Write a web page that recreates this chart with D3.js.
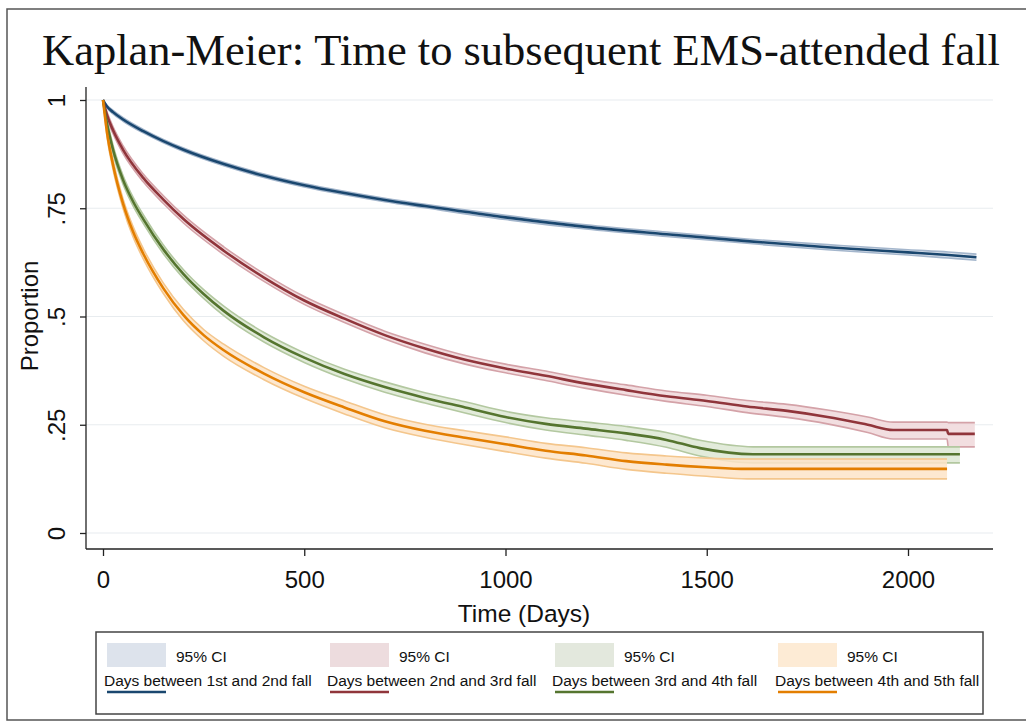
<!DOCTYPE html>
<html>
<head>
<meta charset="utf-8">
<script src="https://cdn.jsdelivr.net/npm/d3@7"></script>
<style>
  body { margin: 0; background: #fff; }
  svg text { font-family: "Liberation Sans", Arial, sans-serif; fill: #111; }
</style>
</head>
<body>
<div id="chart"></div>
<script>
// Kaplan-Meier estimates (days, survival, 95% CI)
let days12 = [0, 10, 25, 50, 100, 150, 200, 300, 400, 500, 600, 700, 800, 1000, 1200, 1400, 1600, 1800, 2000, 2100, 2170];
let surv12 = [1, .985, .972, .955, .928, .905, .885, .852, .825, .803, .785, .769, .755, .729, .707, .69, .674, .66, .648, .642, .637];
let lo12   = [1, .982, .968, .951, .924, .901, .881, .848, .821, .799, .781, .765, .751, .724, .702, .685, .669, .654, .642, .635, .630];
let hi12   = [1, .988, .976, .959, .932, .909, .889, .856, .829, .807, .789, .773, .759, .734, .712, .695, .679, .666, .654, .649, .644];

let days23 = [0, 10, 25, 50, 100, 150, 200, 300, 400, 500, 600, 700, 800, 900, 1000, 1100, 1200, 1300, 1400, 1500, 1600, 1700, 1800, 1900, 1963, 2097, 2100, 2166];
let surv23 = [1, .965, .93, .885, .82, .77, .725, .652, .59, .537, .495, .457, .426, .40, .38, .363, .345, .33, .316, .305, .292, .282, .268, .25, .238, .238, .229, .229];
let lo23   = [1, .958, .922, .876, .811, .761, .716, .643, .581, .528, .486, .448, .416, .39, .37, .352, .334, .318, .304, .292, .278, .267, .252, .232, .217, .217, .199, .199];
let hi23   = [1, .972, .938, .894, .829, .779, .734, .661, .599, .546, .504, .466, .436, .41, .39, .374, .356, .342, .328, .318, .306, .297, .284, .268, .256, .256, .255, .255];

let days34 = [0, 10, 25, 50, 75, 100, 150, 200, 250, 300, 400, 500, 600, 700, 800, 900, 1000, 1100, 1200, 1300, 1400, 1483, 1615, 2129];
let surv34 = [1, .945, .885, .815, .765, .725, .655, .598, .552, .513, .452, .405, .367, .337, .312, .29, .268, .252, .241, .23, .215, .196, .182, .182];
let lo34   = [1, .936, .875, .805, .755, .715, .645, .588, .542, .502, .441, .394, .356, .325, .3, .277, .255, .238, .226, .214, .198, .178, .162, .162];
let hi34   = [1, .954, .895, .825, .775, .735, .665, .608, .562, .524, .463, .416, .378, .349, .324, .303, .281, .266, .256, .246, .232, .214, .199, .199];

let days45 = [0, 10, 25, 50, 75, 100, 150, 200, 250, 300, 400, 500, 600, 700, 800, 900, 1000, 1100, 1200, 1300, 1400, 1500, 1600, 2097];
let surv45 = [1, .925, .85, .76, .695, .645, .565, .503, .457, .422, .368, .325, .29, .258, .236, .22, .205, .19, .179, .166, .158, .152, .148, .148];
let lo45   = [1, .915, .839, .749, .683, .633, .553, .49, .444, .408, .354, .311, .275, .243, .221, .204, .188, .173, .161, .147, .138, .131, .125, .125];
let hi45   = [1, .935, .861, .771, .707, .657, .577, .516, .47, .436, .382, .339, .305, .273, .251, .236, .222, .207, .197, .185, .178, .173, .171, .171];

let seriesNames = ["Days between 1st and 2nd fall", "Days between 2nd and 3rd fall",
                   "Days between 3rd and 4th fall", "Days between 4th and 5th fall"];
let xTicks = [0, 500, 1000, 1500, 2000];
let yTicks = [0, .25, .5, .75, 1];
let yTickLabels = ["0", ".25", ".5", ".75", "1"];

let lineColors = ["#1a476f", "#90353b", "#55752f", "#e37e00"];
let ciFills    = ["#d6deea", "#f0d8db", "#dde8d3", "#fde4c8"];
let ciEdges    = ["#a4b6cc", "#d4a2a8", "#b3c8a0", "#f4c68c"];
let swatchFills = ["#dde3ec", "#eddcde", "#e3e8dd", "#fdebd5"];

let series = [
  {days: days12, surv: surv12, lo: lo12, hi: hi12},
  {days: days23, surv: surv23, lo: lo23, hi: hi23},
  {days: days34, surv: surv34, lo: lo34, hi: hi34},
  {days: days45, surv: surv45, lo: lo45, hi: hi45},
].map((s, i) => ({
  name: seriesNames[i],
  points: s.days.map((d, j) => ({t: d, v: s.surv[j], lo: s.lo[j], hi: s.hi[j]}))
}));

let W = 1026, H = 728;
let svg = d3.select("#chart").append("svg")
  .attr("width", W).attr("height", H);

// outer frame
svg.append("rect")
  .attr("x", 7).attr("y", 9).attr("width", 1040).attr("height", 711)
  .attr("fill", "none").attr("stroke", "#555").attr("stroke-width", 1.5);

svg.append("text")
  .attr("x", 521).attr("y", 65)
  .attr("text-anchor", "middle")
  .style("font-family", "'Liberation Serif', 'Times New Roman', serif")
  .style("font-size", "44.5px")
  .text("Kaplan-Meier: Time to subsequent EMS-attended fall");

let xScale = d3.scaleLinear().domain([0, 2000]).range([103, 908]);
let yScale = d3.scaleLinear().domain([0, 1]).range([533, 100]);
let plotLeft = 86, plotRight = 993, plotBottom = 549, plotTop = 87;

// gridlines
svg.append("g").selectAll("line")
  .data(yTicks)
  .join("line")
  .attr("x1", plotLeft).attr("x2", plotRight)
  .attr("y1", d => yScale(d)).attr("y2", d => yScale(d))
  .attr("stroke", "#e8ecef").attr("stroke-width", 1.2);

// axes
let yAxis = d3.axisLeft(yScale).tickValues(yTicks)
  .tickFormat((d, i) => yTickLabels[i]).tickSize(6);
let yG = svg.append("g").attr("transform", `translate(${plotLeft},0)`).call(yAxis);
yG.select(".domain").attr("d", `M0,${plotTop}V${plotBottom}`).attr("stroke", "#222").attr("stroke-width", 1.3);
yG.selectAll(".tick line").attr("stroke", "#222").attr("stroke-width", 1.3);
yG.selectAll(".tick text")
  .attr("x", null)
  .attr("text-anchor", "middle")
  .attr("transform", "translate(-21,0) rotate(-90)")
  .attr("y", 0).attr("dy", 0)
  .style("font-size", "24px").attr("fill", "#111");

let xAxis = d3.axisBottom(xScale).tickValues(xTicks).tickFormat(d3.format("d")).tickSize(7).tickPadding(15);
let xG = svg.append("g").attr("transform", `translate(0,${plotBottom})`).call(xAxis);
xG.select(".domain").attr("d", `M${plotLeft},0H${plotRight}`).attr("stroke", "#222").attr("stroke-width", 1.3);
xG.selectAll(".tick line").attr("stroke", "#222").attr("stroke-width", 1.3);
xG.selectAll(".tick text").style("font-size", "24px").attr("fill", "#111");

svg.append("text")
  .attr("x", 524).attr("y", 622)
  .attr("text-anchor", "middle")
  .style("font-size", "24.5px")
  .text("Time (Days)");

svg.append("text")
  .attr("transform", "translate(38,316) rotate(-90)")
  .attr("text-anchor", "middle")
  .style("font-size", "24px")
  .text("Proportion");

// CI bands
let area = d3.area()
  .x(d => xScale(d.t)).y0(d => yScale(d.lo)).y1(d => yScale(d.hi))
  .curve(d3.curveMonotoneX);
let lineOf = key => d3.line().x(d => xScale(d.t)).y(d => yScale(d[key])).curve(d3.curveMonotoneX);

let ciG = svg.append("g");
series.forEach((s, i) => {
  ciG.append("path").attr("d", area(s.points))
    .attr("fill", ciFills[i]).attr("fill-opacity", 0.85);
  ["lo", "hi"].forEach(k => {
    ciG.append("path").attr("d", lineOf(k)(s.points))
      .attr("fill", "none").attr("stroke", ciEdges[i]).attr("stroke-width", 1.6);
  });
});

let lineG = svg.append("g");
series.forEach((s, i) => {
  lineG.append("path").attr("d", lineOf("v")(s.points))
    .attr("fill", "none").attr("stroke", lineColors[i]).attr("stroke-width", 2.6);
});

// legend
let legend = svg.append("g");
legend.append("rect")
  .attr("x", 96).attr("y", 632).attr("width", 887).attr("height", 82)
  .attr("fill", "#fff").attr("stroke", "#444").attr("stroke-width", 1.5);

let legendX = [107, 330, 555, 778];
series.forEach((s, i) => {
  let g = legend.append("g").attr("transform", `translate(${legendX[i]},0)`);
  g.append("rect").attr("x", 0).attr("y", 643).attr("width", 59).attr("height", 24)
    .attr("fill", swatchFills[i]);
  g.append("text").attr("x", 69).attr("y", 662).style("font-size", "15.5px").text("95% CI");
  g.append("text").attr("x", -3).attr("y", 686).style("font-size", "15.5px").text(s.name);
  g.append("line").attr("x1", 0).attr("x2", 59).attr("y1", 692).attr("y2", 692)
    .attr("stroke", lineColors[i]).attr("stroke-width", 2.5);
});
</script>
</body>
</html>
